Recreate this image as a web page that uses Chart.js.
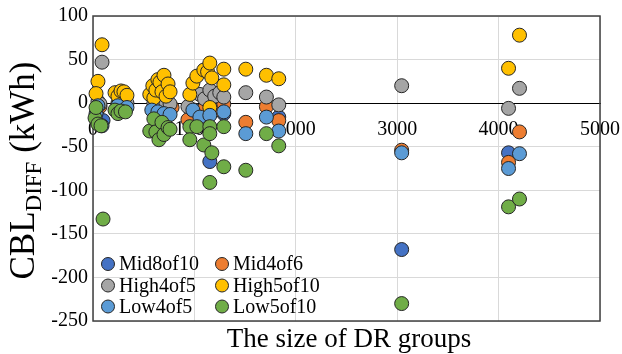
<!DOCTYPE html>
<html>
<head>
<meta charset="utf-8">
<script src="https://cdn.jsdelivr.net/npm/chart.js@4.4.1/dist/chart.umd.min.js"></script>
<style>
  body { margin: 0; background: #fff; }
  #wrap { width: 622px; height: 354px; position: relative; }
</style>
</head>
<body>
<div id="wrap"><canvas id="chart"></canvas></div>
<script>
// values (x = group size, y = CBL diff in kWh)
const seriesNames = ["Mid8of10", "Mid4of6", "High4of5", "High5of10", "Low4of5", "Low5of10"];
const seriesColors = ["#4472C4", "#ED7D31", "#A5A5A5", "#FFC000", "#5B9BD5", "#70AD47"];

const mid8of10X = [99, 49, 300, 620, 700, 1000, 1152, 1290, 1832, 3044, 4098];
const mid8of10Y = [-20, -6, -3, -8, -10, -8, -67, -12, -16, -168, -57];

const mid4of6X = [69, 276, 640, 780, 936, 1100, 1200, 1290, 1507, 1710, 1832, 3044, 4098, 4206];
const mid4of6Y = [-4, -4, -3, -5, -19, -6, -8, -1, -22, -4, -20, -54, -68, -33];

const high4of5X = [89, 49, 69, 246, 305, 335, 600, 660, 720, 760, 936, 1054, 1100, 1152, 1200, 1250, 1290, 1507, 1710, 1832, 3044, 4098, 4206];
const high4of5Y = [47, 2, -1, 0, 1, 0, 0, 2, 0, -1, -4, 10, 5, 15, 8, 12, 7, 12, 7, -2, 20, -6, 17];

const high5of10X = [89, 49, 30, 217, 246, 276, 305, 335, 560, 590, 600, 620, 640, 660, 680, 700, 720, 740, 760, 955, 985, 1024, 1093, 1130, 1152, 1172, 1152, 1290, 1290, 1507, 1710, 1832, 4098, 4206];
const high5of10Y = [67, 25, 11, 12, 8, 14, 13, 9, 10, 20, 6, 15, 27, 24, 13, 32, 8, 22, 13, 10, 23, 31, 38, 36, 46, 29, -5, 39, 21, 39, 32, 28, 40, 78];

const low4of5X = [30, 49, 89, 246, 335, 580, 640, 700, 760, 985, 1054, 1152, 1290, 1507, 1710, 1832, 3044, 4098, 4206];
const low4of5Y = [-12, -3, -26, -3, -5, -8, -10, -12, -13, -8, -16, -14, -10, -35, -16, -32, -57, -75, -58];

const low5of10X = [20, 30, 49, 79, 99, 217, 246, 276, 320, 560, 600, 620, 650, 680, 700, 740, 760, 955, 955, 1024, 1093, 1152, 1152, 1152, 1172, 1290, 1290, 1507, 1710, 1832, 3044, 4098, 4206];
const low5of10Y = [-17, -5, -24, -26, -133, -8, -12, -9, -10, -32, -18, -33, -42, -22, -36, -28, -30, -27, -42, -27, -48, -27, -35, -91, -57, -27, -73, -77, -35, -49, -230, -119, -110];

const xTicks = [0, 1000, 2000, 3000, 4000, 5000];
const yTicks = [-250, -200, -150, -100, -50, 0, 50, 100];

const serif = "'Liberation Serif', 'Times New Roman', serif";

const allX = [mid8of10X, mid4of6X, high4of5X, high5of10X, low4of5X, low5of10X];
const allY = [mid8of10Y, mid4of6Y, high4of5Y, high5of10Y, low4of5Y, low5of10Y];

const datasets = seriesNames.map((name, i) => ({
  label: name,
  data: allX[i].map((x, j) => ({ x: x, y: allY[i][j] })),
  backgroundColor: seriesColors[i],
  borderColor: "#262626",
  borderWidth: 1,
  pointRadius: 7,
  clip: false,
  order: seriesNames.length - i, // later series on top, like the original
}));

// frame round the plot area
const frame = {
  id: "frame",
  beforeDatasetsDraw(chart) {
    const { ctx, chartArea: a } = chart;
    ctx.save();
    ctx.strokeStyle = "#404040";
    ctx.lineWidth = 1.5;
    ctx.strokeRect(a.left, a.top, a.right - a.left, a.bottom - a.top);
    ctx.restore();
  },
};

// axis titles (with subscript) and the in-plot legend
const extras = {
  id: "extras",
  afterDraw(chart) {
    const { ctx, chartArea: a } = chart;
    ctx.save();
    ctx.fillStyle = "#000";

    ctx.font = "27px " + serif;
    ctx.textAlign = "center";
    ctx.textBaseline = "middle";
    ctx.fillText("The size of DR groups", 349, 340);

    ctx.save();
    ctx.translate(34, (a.top + a.bottom) / 2 + 2);
    ctx.rotate(-Math.PI / 2);
    ctx.textAlign = "left";
    ctx.textBaseline = "alphabetic";
    const big = "35px " + serif;
    const small = "23px " + serif;
    ctx.font = big;
    const w1 = ctx.measureText("CBL").width;
    const w3 = ctx.measureText(" (kWh)").width;
    ctx.font = small;
    const w2 = ctx.measureText("DIFF").width;
    let x = -(w1 + w2 + w3) / 2;
    ctx.font = big;
    ctx.fillText("CBL", x, 0);
    x += w1;
    ctx.font = small;
    ctx.fillText("DIFF", x, 7);
    x += w2;
    ctx.font = big;
    ctx.fillText(" (kWh)", x, 0);
    ctx.restore();

    ctx.font = "20px " + serif;
    ctx.textAlign = "left";
    ctx.textBaseline = "middle";
    const colX = [108, 222];
    const rowY = [264, 285.5, 306.5];
    seriesNames.forEach((name, i) => {
      const cx = colX[i % 2];
      const cy = rowY[Math.floor(i / 2)];
      ctx.beginPath();
      ctx.arc(cx, cy, 6.5, 0, Math.PI * 2);
      ctx.fillStyle = seriesColors[i];
      ctx.fill();
      ctx.strokeStyle = "#262626";
      ctx.lineWidth = 1;
      ctx.stroke();
      ctx.fillStyle = "#000";
      ctx.fillText(name, cx + 11, cy + 1);
    });
    ctx.restore();
  },
};

const config = {
  type: "scatter",
  data: { datasets: datasets },
  options: {
    responsive: true,
    maintainAspectRatio: false,
    animation: false,
    layout: { padding: { left: 5, right: 22, top: 16, bottom: 0 } },
    plugins: {
      legend: { display: false },
      tooltip: { enabled: false },
    },
    scales: {
      x: {
        type: "linear",
        position: "bottom",
        min: 0,
        max: 5000,
        afterBuildTicks: (s) => { s.ticks = xTicks.map((v) => ({ value: v })); },
        ticks: { display: false },
        grid: { color: "#d9d9d9", drawTicks: false },
        border: { display: false },
        afterFit: (s) => { s.height = 33; s.paddingLeft = 0; s.paddingRight = 0; },
      },
      x2: {
        type: "linear",
        axis: "x",
        position: { y: 0 },
        min: 0,
        max: 5000,
        afterBuildTicks: (s) => { s.ticks = xTicks.map((v) => ({ value: v })); },
        ticks: {
          color: "#000",
          padding: 15,
          maxRotation: 0,
          font: { family: serif, size: 20 },
          callback: (v) => String(v),
        },
        grid: { display: false, drawTicks: false },
        border: { color: "#000", width: 1 },
        afterFit: (s) => { s.paddingLeft = 0; s.paddingRight = 0; },
      },
      y: {
        min: -250,
        max: 100,
        afterBuildTicks: (s) => { s.ticks = yTicks.map((v) => ({ value: v })); },
        ticks: { color: "#000", padding: 5, font: { family: serif, size: 20 } },
        grid: { color: "#d9d9d9", drawTicks: false },
        border: { display: false },
        afterFit: (s) => { s.width = 88; s.paddingTop = 0; s.paddingBottom = 0; },
      },
    },
  },
  plugins: [frame, extras],
};

const chart = new Chart(document.getElementById("chart").getContext("2d"), config);
</script>
</body>
</html>
